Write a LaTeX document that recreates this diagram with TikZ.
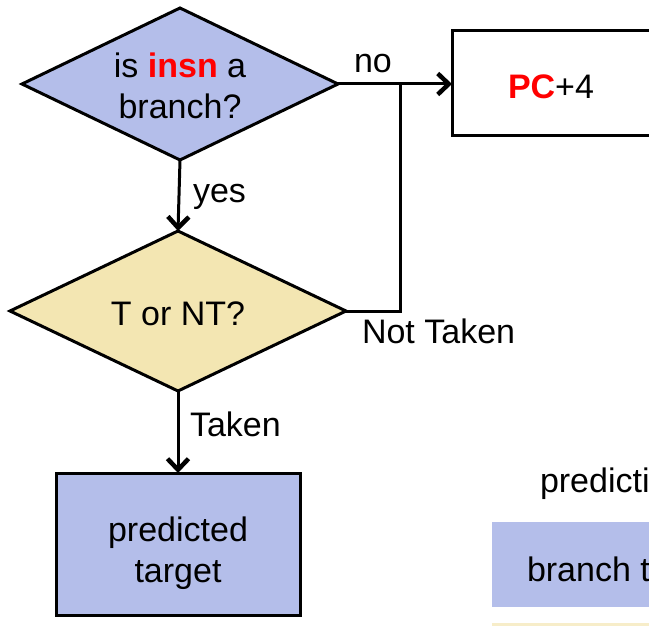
\documentclass[tikz,border=0pt]{standalone}
\usepackage{fontspec}
\setmainfont{Liberation Sans}
\usetikzlibrary{shapes.geometric,arrows.meta}
\definecolor{lav}{RGB}{180,190,234}
\definecolor{sand}{RGB}{243,230,178}
\definecolor{hot}{RGB}{255,0,0}
\tikzset{
  txt/.style={font=\fontsize{34}{41}\selectfont, inner sep=0pt, outer sep=0pt},
  dia/.style={shape=diamond, draw=black, line width=3pt, inner sep=0pt, outer sep=0pt},
  blk/.style={shape=rectangle, draw=black, line width=3pt, inner sep=0pt, outer sep=0pt},
  conn/.style={line width=3pt, draw=black},
  arr/.style={conn, -{Straight Barb[length=11pt,width=21pt,line width=4.5pt]}}
}
\begin{document}
\begin{tikzpicture}[x=1pt,y=-1pt]
\useasboundingbox (0,0) rectangle (649,626);
\clip (0,0) rectangle (649,626);
% shapes
\node[dia, fill=lav, minimum width=316pt, minimum height=152pt] (d1) at (180,84) {};
\node[dia, fill=sand, minimum width=336pt, minimum height=160pt] (d2) at (178,311) {};
\node[blk, fill=white, minimum width=248pt, minimum height=105pt] (pc) at (576,83.5) {};
\node[blk, fill=lav, minimum width=244pt, minimum height=142pt] (tgt) at (178,544) {};
\node[shape=rectangle, fill=lav, inner sep=0pt, minimum width=170pt, minimum height=85pt] (bt) at (577,564.5) {};
\node[shape=rectangle, fill=sand!70!white, inner sep=0pt, minimum width=170pt, minimum height=8pt] (ys) at (577,627) {};
% texts
\node[txt, align=center] (t1) at (180,86) {is \textbf{\textcolor{hot}{insn}} a\\branch?};
\node[txt, anchor=base] (t2) at (178,325) {T or NT?};
\node[txt, anchor=base] (t3) at (551,99) {\textbf{\textcolor{hot}{PC}}+4};
\node[txt, align=center] (t4) at (178,553) {predicted\\target};
\node[txt, anchor=base west] (t5) at (540,492) {predicti};
\node[txt, anchor=base west] (t6) at (527,581) {branch t};
\node[txt, anchor=base] (lno) at (373,73) {no};
\node[txt, anchor=base west] (lyes) at (193,202) {yes};
\node[txt, anchor=base west] (lnt) at (362,343) {Not Taken};
\node[txt, anchor=base west] (lt) at (190,436) {Taken};
% connectors
\coordinate (j) at (400,85);
\draw[arr] (d1.east) -- (d1.east -| pc.west);
\draw[arr] (d1.south) -- (d2.north);
\draw[arr] (d2.south) -- (tgt.north);
\draw[conn] (d2.east) -- (d2.east -| j) -- (j);
\end{tikzpicture}
\end{document}
